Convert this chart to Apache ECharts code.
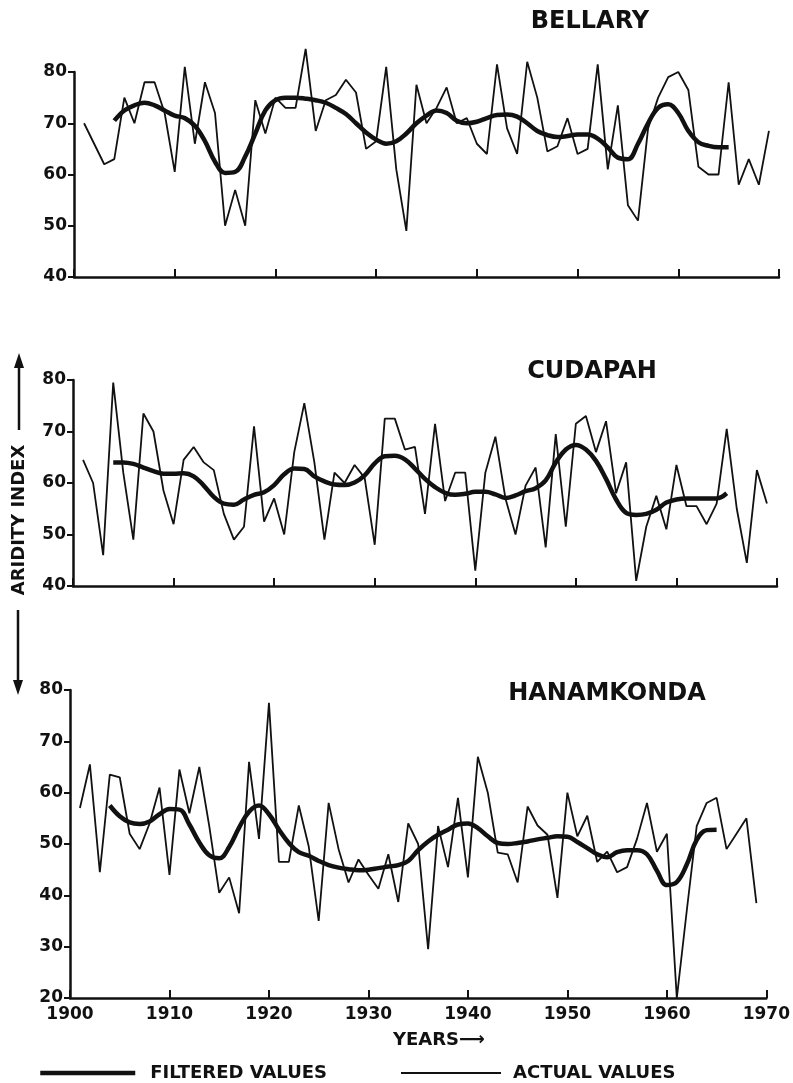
<!DOCTYPE html>
<html>
<head>
<meta charset="utf-8">
<title>Aridity index</title>
<script src="https://cdn.jsdelivr.net/npm/echarts@6/dist/echarts.min.js"></script>
<style>
    html, body { margin: 0; padding: 0; background: #fff; }
    #chart { width: 793px; height: 1083px; }
</style>
</head>
<body>
<div id="chart"></div>
<script>
// ==================== data ====================

const actualStartYear = 1901;    // first year of the actual series
const filteredStartYear = 1904;  // first year of the filtered series
const yearMin = 1900;
const yearMax = 1970;

const bellaryActual = [
    70, 66, 62, 63, 75, 70, 78, 78, 72, 60.5,
    81, 66, 78, 72, 50, 57, 50, 74.5, 68, 75,
    73, 73, 84.5, 68.5, 74.5, 75.5, 78.5, 76, 65, 66.5,
    81, 61, 49, 77.5, 70, 73, 77, 70, 71, 66,
    64, 81.5, 69, 64, 82, 75, 64.5, 65.5, 71, 64,
    65, 81.5, 61, 73.5, 54, 51, 69, 75, 79, 80,
    76.5, 61.5, 60, 60, 78, 58, 63, 58, 68.5,
];
const bellaryFiltered = [
    70.5, 72.5, 73.5, 74, 73.5, 72.5, 71.5, 71, 69.5, 66.5,
    62.5, 60.3, 60.5, 63.5, 68, 72.5, 74.5, 75, 75, 74.8,
    74.5, 74, 73, 71.8, 70, 68.2, 66.8, 66, 66.5, 68,
    70, 71.5, 72.5, 72, 70.5, 70, 70.3, 71, 71.6, 71.7,
    71.3, 70, 68.5, 67.7, 67.3, 67.5, 67.8, 67.8, 67, 65.3,
    63.3, 63, 66, 70, 73, 73.7, 72, 68.5, 66.3, 65.6,
    65.3, 65.3,
];

const cudapahActual = [
    64.5, 60, 46, 79.5, 62, 49, 73.5, 70, 58.5, 52,
    64.5, 67, 64, 62.5, 54, 49, 51.5, 71, 52.5, 57,
    50, 66, 75.5, 64, 49, 62, 60, 63.5, 61, 48,
    72.5, 72.5, 66.5, 67, 54, 71.5, 56.5, 62, 62, 43,
    62, 69, 57, 50, 59.5, 63, 47.5, 69.5, 51.5, 71.5,
    73, 66, 72, 58, 64, 41, 51.5, 57.5, 51, 63.5,
    55.5, 55.5, 52, 56, 70.5, 55, 44.5, 62.5, 56,
];
const cudapahFiltered = [
    64, 64, 63.7, 63, 62.3, 61.8, 61.8, 61.9, 61.3, 59.5,
    57.3, 56, 55.8, 56.8, 57.7, 58.2, 59.6, 61.7, 62.8, 62.7,
    61.3, 60.3, 59.7, 59.6, 60.1, 61.5, 63.8, 65.2, 65.3, 64.6,
    62.8, 60.8, 59.2, 58.1, 57.7, 57.9, 58.3, 58.3, 57.8, 57.1,
    57.6, 58.4, 59, 60.5, 64, 66.5, 67.4, 66.5, 64.3, 60.8,
    56.8, 54.2, 53.8, 54, 54.8, 56.2, 56.8, 57, 57, 57,
    57, 58,
];

const hanamkondaActual = [
    57, 65.5, 44.5, 63.5, 63, 52, 49, 54, 61, 44,
    64.5, 56, 65, 53.5, 40.5, 43.5, 36.5, 66, 51, 77.5,
    46.5, 46.5, 57.5, 49.5, 35, 58, 49, 42.5, 47, 44,
    41.3, 48, 38.7, 54, 50, 29.5, 53.5, 45.5, 59, 43.5,
    67, 60, 48.3, 48, 42.5, 57.3, 53.6, 51.8, 39.5, 60,
    51.5, 55.5, 46.5, 48.5, 44.5, 45.5, 51, 58, 48.5, 52,
    20, 37, 53.5, 58, 59, 49, 52, 55, 38.5,
];
const hanamkondaFiltered = [
    57.5, 55.4, 54.2, 53.9, 54.4, 55.8, 56.8, 56.7, 53.8, 50.3,
    47.8, 47.2, 49.4, 53.2, 56.3, 57.5, 55.8, 52.8, 50.2, 48.4,
    47.7, 46.7, 45.9, 45.4, 45.1, 44.9, 45, 45.3, 45.6, 45.9,
    46.7, 48.8, 50.5, 51.8, 52.8, 53.8, 54, 53.1, 51.5, 50.2,
    50, 50.2, 50.5, 50.9, 51.2, 51.5, 51.4, 50.4, 49.2, 48,
    47.4, 48.4, 48.8, 48.8, 48, 44.8, 42, 42.6, 46, 50.8,
    52.7, 52.8,
];

const stationNames = ['BELLARY', 'CUDAPAH', 'HANAMKONDA'];
const yMins = [40, 40, 20];
const yMax = 80;

// ==================== layout ====================

const FONT = 'DejaVu Sans';
const INK = '#111';

const panels = [
    { actual: bellaryActual, filtered: bellaryFiltered,
      grid: { left: 74, top: 72, width: 705, height: 205 }, titleX: 590, titleY: 10 },
    { actual: cudapahActual, filtered: cudapahFiltered,
      grid: { left: 73, top: 380, width: 704, height: 206 }, titleX: 592, titleY: 360 },
    { actual: hanamkondaActual, filtered: hanamkondaFiltered,
      grid: { left: 70, top: 690, width: 704, height: 308 }, titleX: 607, titleY: 682 },
];

const toPairs = (values, start) => values.map((v, i) => [start + i, v]);

const option = {
    backgroundColor: '#fff',
    animation: false,
    textStyle: { fontFamily: FONT, color: INK },
    title: panels.map((p, i) => ({
        text: stationNames[i],
        left: p.titleX,
        top: p.titleY,
        padding: 0,
        textAlign: 'center',
        textStyle: { fontFamily: FONT, fontWeight: 'bold', fontSize: 24, color: INK },
    })).concat([{
        text: 'YEARS\u27F6',
        left: 393,
        top: 1031,
        padding: 0,
        textStyle: { fontFamily: FONT, fontWeight: 'bold', fontSize: 18, color: INK },
    }]),
    grid: panels.map(p => ({ ...p.grid, containLabel: false })),
    xAxis: panels.map((p, i) => ({
        type: 'value',
        gridIndex: i,
        min: yearMin,
        max: yearMax,
        interval: 10,
        axisLine: { show: true, lineStyle: { color: INK, width: 2.5 } },
        axisTick: { show: true, inside: true, length: 8, lineStyle: { color: INK, width: 2 } },
        axisLabel: {
            show: i === 2,
            margin: 8,
            formatter: v => String(v),
            fontFamily: FONT, fontWeight: 'bold', fontSize: 17, color: INK,
        },
        splitLine: { show: false },
    })),
    yAxis: panels.map((p, i) => ({
        type: 'value',
        gridIndex: i,
        min: yMins[i],
        max: yMax,
        interval: 10,
        axisLine: { show: true, lineStyle: { color: INK, width: 2.5 } },
        axisTick: { show: true, length: 6, lineStyle: { color: INK, width: 2 } },
        axisLabel: { margin: 7, fontFamily: FONT, fontWeight: 'bold', fontSize: 17, color: INK },
        splitLine: { show: false },
    })),
    legend: [
        {
            data: ['FILTERED VALUES'],
            left: 38, top: 1064,
            padding: 0,
            itemWidth: 95, itemHeight: 16,
            lineStyle: { width: 4.5, color: INK },
            itemStyle: { opacity: 0 },
            textStyle: { fontFamily: FONT, fontWeight: 'bold', fontSize: 18, color: INK, padding: [0, 0, 0, 10] },
        },
        {
            data: ['ACTUAL VALUES'],
            left: 400, top: 1064,
            padding: 0,
            itemWidth: 100, itemHeight: 16,
            lineStyle: { width: 2, color: INK },
            itemStyle: { opacity: 0 },
            textStyle: { fontFamily: FONT, fontWeight: 'bold', fontSize: 18, color: INK, padding: [0, 0, 0, 7] },
        },
    ],
    series: [],
    graphic: [
        {
            type: 'text',
            x: 19, y: 520,
            rotation: Math.PI / 2,
            style: {
                text: 'ARIDITY INDEX',
                font: 'bold 18px "DejaVu Sans"',
                fill: INK,
                textAlign: 'center',
                textVerticalAlign: 'middle',
            },
        },
        { type: 'line', shape: { x1: 19, y1: 362, x2: 19, y2: 430 }, style: { stroke: INK, lineWidth: 2.5 } },
        { type: 'polygon', shape: { points: [[14, 368], [19, 353], [24, 368]] }, style: { fill: INK } },
        { type: 'line', shape: { x1: 18, y1: 610, x2: 18, y2: 686 }, style: { stroke: INK, lineWidth: 2.5 } },
        { type: 'polygon', shape: { points: [[13, 680], [18, 695], [23, 680]] }, style: { fill: INK } },
    ],
};

panels.forEach((p, i) => {
    option.series.push({
        name: 'ACTUAL VALUES',
        type: 'line',
        xAxisIndex: i,
        yAxisIndex: i,
        data: toPairs(p.actual, actualStartYear),
        symbol: 'none',
        clip: false,
        lineStyle: { color: INK, width: 1.8 },
        itemStyle: { color: INK },
        z: 2,
    });
    option.series.push({
        name: 'FILTERED VALUES',
        type: 'line',
        xAxisIndex: i,
        yAxisIndex: i,
        data: toPairs(p.filtered, filteredStartYear),
        smooth: 0.4,
        symbol: 'none',
        clip: false,
        lineStyle: { color: INK, width: 4.5 },
        itemStyle: { color: INK },
        z: 3,
    });
});

const chart = echarts.init(document.getElementById('chart'), null, { renderer: 'canvas' });
chart.setOption(option);
</script>
</body>
</html>
